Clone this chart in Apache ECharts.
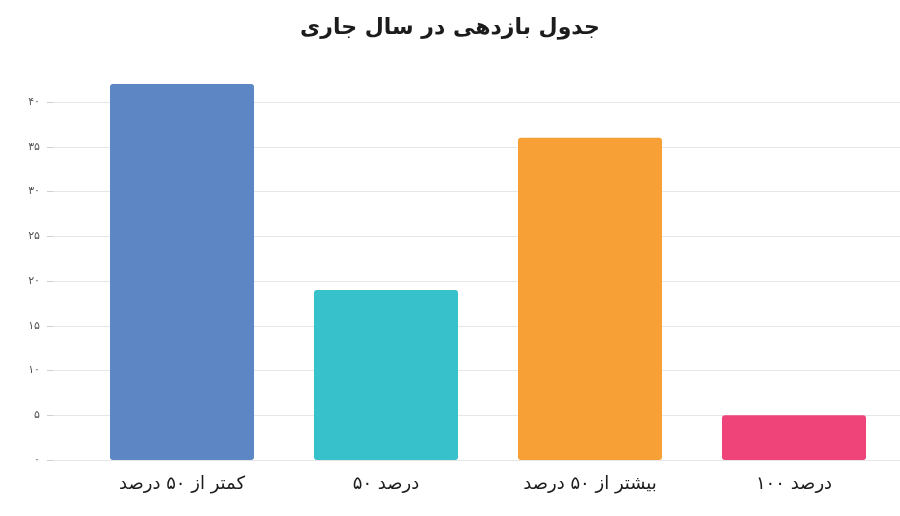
<!DOCTYPE html>
<html>
<head>
<meta charset="utf-8">
<script src="https://cdn.jsdelivr.net/npm/echarts@6/dist/echarts.min.js"></script>
<style>
html,body{margin:0;padding:0;background:#fff;}
#chart{width:900px;height:516px;}
</style>
</head>
<body>
<div id="chart"></div>
<script>
var titleText = 'جدول بازدهی در سال جاری';
var categories = ['کمتر از ۵۰ درصد', '۵۰ درصد', 'بیشتر از ۵۰ درصد', '۱۰۰ درصد'];
var values = [42, 19, 36, 5];
var barColors = ['#5d86c4', '#37c1ca', '#f7a036', '#ef4479'];
var yTickValues = [0, 5, 10, 15, 20, 25, 30, 35, 40];
var yTickLabels = ['۰', '۵', '۱۰', '۱۵', '۲۰', '۲۵', '۳۰', '۳۵', '۴۰'];

var FONT = "'DejaVu Sans', 'Noto Sans', sans-serif";
var chart = echarts.init(document.getElementById('chart'), null, {renderer: 'canvas'});
chart.setOption({
  backgroundColor: '#ffffff',
  animation: false,
  title: {
    text: titleText,
    left: 'center',
    top: 12,
    textStyle: {fontFamily: FONT, fontSize: 22, fontWeight: 'bold', color: '#1c1c1c'}
  },
  grid: [
    {left: 53, right: 0, top: 102, bottom: 56},
    {left: 80, right: 4, top: 84, bottom: 56}
  ],
  xAxis: [
    {gridIndex: 0, type: 'value', show: false},
    {
      gridIndex: 1,
      type: 'category',
      data: categories,
      axisLine: {show: false},
      axisTick: {show: false},
      axisLabel: {fontFamily: FONT, fontSize: 18, color: '#1c1c1c', margin: 15}
    }
  ],
  yAxis: [
    {
      gridIndex: 0,
      type: 'value',
      min: 0,
      max: yTickValues[yTickValues.length - 1],
      interval: yTickValues[1] - yTickValues[0],
      axisLine: {show: false},
      axisTick: {show: true, length: 6, lineStyle: {color: '#cfcfcf'}},
      splitLine: {show: true, lineStyle: {color: '#e6e6e6', width: 1}},
      axisLabel: {
        fontFamily: FONT, fontSize: 11, color: '#555', margin: 13,
        formatter: function (v) {
          var i = yTickValues.indexOf(v);
          return i >= 0 ? yTickLabels[i] : '';
        }
      }
    },
    {
      gridIndex: 1,
      type: 'value',
      min: 0,
      max: Math.max.apply(null, values),
      show: false,
      splitLine: {show: false}
    }
  ],
  series: [{
    type: 'bar',
    xAxisIndex: 1,
    yAxisIndex: 1,
    barCategoryGap: '29.4%',
    data: values.map(function (v, i) {
      return {value: v, itemStyle: {color: barColors[i], borderRadius: 3}};
    })
  }]
});
</script>
</body>
</html>
